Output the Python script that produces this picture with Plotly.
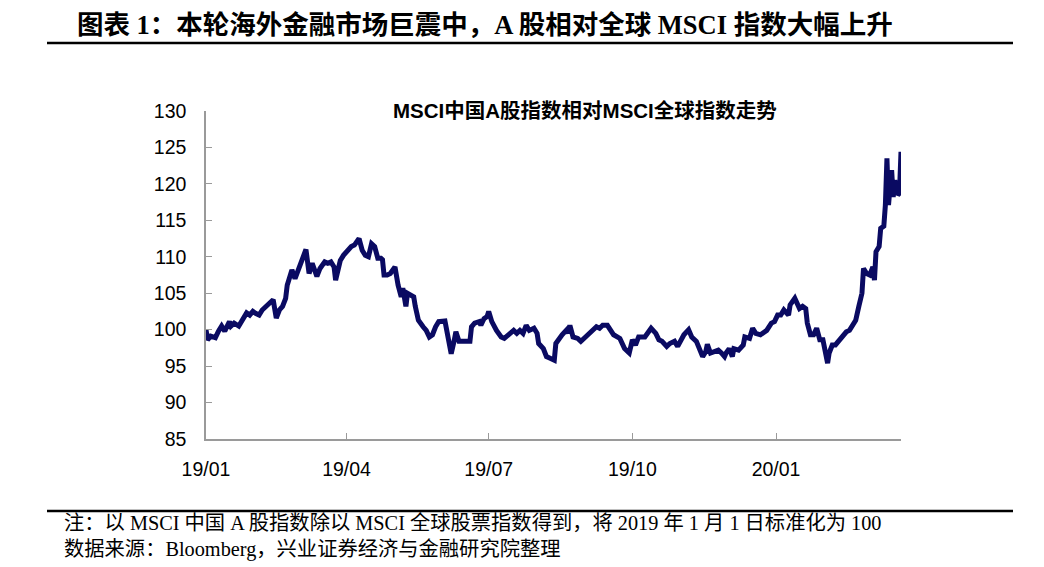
import plotly.graph_objects as go

dates = [
    "2019-01-01", "2019-01-02", "2019-01-04", "2019-01-07", "2019-01-09", "2019-01-11", "2019-01-13",
    "2019-01-16", "2019-01-17", "2019-01-19", "2019-01-22", "2019-01-25", "2019-01-27", "2019-01-29",
    "2019-01-31", "2019-02-02", "2019-02-04", "2019-02-06", "2019-02-08", "2019-02-11", "2019-02-13",
    "2019-02-15", "2019-02-17", "2019-02-19", "2019-02-21", "2019-02-22", "2019-02-25", "2019-02-27",
    "2019-03-01", "2019-03-03", "2019-03-06", "2019-03-08", "2019-03-10", "2019-03-13", "2019-03-15",
    "2019-03-18", "2019-03-20", "2019-03-22", "2019-03-24", "2019-03-25", "2019-03-28", "2019-03-30",
    "2019-04-02", "2019-04-04", "2019-04-06", "2019-04-09", "2019-04-11", "2019-04-13", "2019-04-15",
    "2019-04-17", "2019-04-19", "2019-04-21", "2019-04-23", "2019-04-24", "2019-04-25", "2019-04-27",
    "2019-04-29", "2019-05-02", "2019-05-04", "2019-05-06", "2019-05-07", "2019-05-09", "2019-05-10",
    "2019-05-12", "2019-05-14", "2019-05-15", "2019-05-17", "2019-05-20", "2019-05-22", "2019-05-24",
    "2019-05-26", "2019-05-28", "2019-05-30", "2019-06-03", "2019-06-05", "2019-06-07", "2019-06-09",
    "2019-06-10", "2019-06-12", "2019-06-15", "2019-06-19", "2019-06-20", "2019-06-22", "2019-06-25",
    "2019-06-26", "2019-06-28", "2019-06-30", "2019-07-01", "2019-07-03", "2019-07-06", "2019-07-09",
    "2019-07-11", "2019-07-14", "2019-07-17", "2019-07-19", "2019-07-21", "2019-07-23", "2019-07-25",
    "2019-07-27", "2019-07-30", "2019-08-01", "2019-08-02", "2019-08-05", "2019-08-07", "2019-08-09",
    "2019-08-12", "2019-08-13", "2019-08-15", "2019-08-17", "2019-08-20", "2019-08-21", "2019-08-22",
    "2019-08-24", "2019-08-27", "2019-08-29", "2019-09-01", "2019-09-05", "2019-09-08", "2019-09-10",
    "2019-09-12", "2019-09-15", "2019-09-17", "2019-09-19", "2019-09-23", "2019-09-26", "2019-09-29",
    "2019-10-01", "2019-10-03", "2019-10-05", "2019-10-09", "2019-10-11", "2019-10-13", "2019-10-16",
    "2019-10-18", "2019-10-20", "2019-10-23", "2019-10-25", "2019-10-28", "2019-10-30", "2019-11-01",
    "2019-11-03", "2019-11-06", "2019-11-08", "2019-11-11", "2019-11-14", "2019-11-15", "2019-11-17",
    "2019-11-18", "2019-11-20", "2019-11-23", "2019-11-25", "2019-11-27", "2019-11-29", "2019-11-30",
    "2019-12-02", "2019-12-04", "2019-12-05", "2019-12-08", "2019-12-11", "2019-12-12", "2019-12-15",
    "2019-12-17", "2019-12-19", "2019-12-22", "2019-12-26", "2019-12-29", "2019-12-31", "2020-01-02",
    "2020-01-04", "2020-01-06", "2020-01-09", "2020-01-10", "2020-01-13", "2020-01-16", "2020-01-18",
    "2020-01-20", "2020-01-21", "2020-01-23", "2020-01-25", "2020-01-27", "2020-01-29", "2020-01-31",
    "2020-02-02", "2020-02-03", "2020-02-04", "2020-02-06", "2020-02-08", "2020-02-11", "2020-02-13",
    "2020-02-15", "2020-02-17", "2020-02-19", "2020-02-21", "2020-02-23", "2020-02-25", "2020-02-26",
    "2020-02-28", "2020-03-01", "2020-03-03", "2020-03-04", "2020-03-05", "2020-03-07", "2020-03-08",
    "2020-03-10", "2020-03-11", "2020-03-12", "2020-03-13", "2020-03-14", "2020-03-15", "2020-03-16",
    "2020-03-17", "2020-03-19", "2020-03-20", "2020-03-21",
]

ratio = [
    100.0, 98.6, 99.1, 98.9, 99.8, 100.5, 99.8,
    101.1, 100.5, 100.9, 100.5, 101.6, 102.3, 102.0,
    102.5, 102.2, 102.0, 102.7, 103.1, 103.9, 104.1,
    101.6, 102.7, 103.2, 104.3, 106.1, 108.2, 107.0,
    108.2, 109.5, 111.0, 107.7, 109.1, 107.3, 108.4,
    109.3, 109.1, 109.3, 108.6, 106.8, 109.5, 110.2,
    110.9, 111.4, 111.6, 112.5, 110.9, 110.2, 110.0,
    111.8, 111.4, 109.8, 109.8, 109.6, 107.5, 107.5,
    107.7, 108.6, 106.1, 104.5, 105.7, 103.2, 105.0,
    104.8, 104.5, 103.2, 101.3, 100.4, 99.9, 99.0,
    99.3, 100.4, 101.1, 101.2, 98.6, 96.7, 98.6,
    99.7, 98.4, 98.4, 98.4, 100.4, 100.9, 101.1,
    100.6, 101.5, 101.8, 102.5, 101.1, 99.9, 99.0,
    98.8, 99.3, 99.9, 99.5, 99.9, 99.5, 100.6,
    99.9, 100.2, 99.5, 98.1, 97.4, 96.3, 96.1,
    95.8, 98.1, 98.8, 99.3, 100.0, 99.5, 100.6,
    99.0, 98.8, 98.4, 99.0, 99.7, 100.4, 100.2,
    100.6, 100.6, 100.0, 99.3, 98.8, 97.4, 96.8,
    98.6, 97.9, 99.0, 99.0, 99.5, 100.2, 99.5,
    98.6, 98.4, 97.7, 98.1, 98.4, 97.7, 98.4,
    99.3, 100.0, 99.0, 98.4, 97.0, 96.3, 97.0,
    98.0, 96.8, 97.0, 97.2, 96.8, 96.3, 96.8,
    97.4, 96.3, 97.4, 97.2, 97.9, 99.0, 98.8,
    100.2, 99.5, 99.3, 99.9, 100.9, 101.1, 102.0,
    102.0, 102.7, 102.0, 103.4, 104.3, 102.9, 103.2,
    102.9, 100.9, 99.3, 99.3, 100.2, 98.6, 98.6,
    96.8, 95.4, 96.8, 97.9, 97.9, 98.6, 99.0,
    99.7, 99.9, 100.6, 101.3, 103.2, 105.0, 108.4,
    107.7, 107.5, 108.6, 106.8, 110.7, 111.4, 113.9,
    114.2, 117.1, 123.5, 117.1, 119.6, 121.9, 118.2,
    120.5, 118.5, 118.7, 124.4,
]

y_ticks = [85, 90, 95, 100, 105, 110, 115, 120, 125, 130]

header = "图表 1：本轮海外金融市场巨震中，A 股相对全球 MSCI 指数大幅上升"
chart_title = "MSCI中国A股指数相对MSCI全球指数走势"
note_1 = "注：以 MSCI 中国 A 股指数除以 MSCI 全球股票指数得到，将 2019 年 1 月 1 日标准化为 100"
note_2 = "数据来源：Bloomberg，兴业证券经济与金融研究院整理"

OFF = 8  # page body margin
W, H = 1044 - OFF, 567 - OFF
L, R, T, B = 206 - OFF, 901 - OFF, 111 - OFF, 439 - OFF


def px(x):
    return (x - OFF - L) / (R - L)


def py(y):
    return (B - (y - OFF)) / (B - T)


fig = go.Figure()
fig.add_trace(go.Scatter(
    x=dates, y=ratio, mode="lines",
    line=dict(color="#0a0a62", width=5),
    hoverinfo="skip", showlegend=False,
))

axis_col = "#9a9a9a"
tick_font = dict(family="Liberation Sans, Arial, sans-serif", size=19.5, color="#000000")

fig.update_layout(
    width=W, height=H,
    margin=dict(l=L, r=W - R, t=T, b=H - B),
    paper_bgcolor="#ffffff", plot_bgcolor="#ffffff",
    xaxis=dict(
        type="date", range=["2019-01-01", "2020-03-21"],
        tick0="2019-01-01", dtick="M3", tickformat="%y/%m",
        showgrid=False, zeroline=False,
        showline=True, linecolor=axis_col, linewidth=1.5,
        ticks="inside", ticklen=6, tickcolor=axis_col, tickwidth=1.2,
        tickfont=tick_font, ticklabelstandoff=12,
    ),
    yaxis=dict(
        range=[85, 130], tickvals=y_ticks,
        showgrid=False, zeroline=False,
        showline=True, linecolor=axis_col, linewidth=1.5,
        ticks="inside", ticklen=6, tickcolor=axis_col, tickwidth=1.2,
        tickfont=tick_font, ticklabelstandoff=14,
    ),
)

fig.add_annotation(
    x=px(585), y=py(110), xref="paper", yref="paper",
    text="<b>" + chart_title + "</b>", showarrow=False,
    xanchor="center", yanchor="middle",
    font=dict(family="Liberation Sans, Noto Sans CJK SC, sans-serif", size=20.5, color="#000000"),
)
fig.add_annotation(
    x=px(75), y=py(25), xref="paper", yref="paper",
    text="<b>" + header + "</b>", showarrow=False,
    xanchor="left", yanchor="middle",
    font=dict(family="Liberation Serif, Noto Sans CJK SC, serif", size=26.5, color="#000000"),
)
for txt, yy in [(note_1, 523), (note_2, 549)]:
    fig.add_annotation(
        x=px(62), y=py(yy), xref="paper", yref="paper",
        text=txt, showarrow=False, xanchor="left", yanchor="middle",
        font=dict(family="Liberation Serif, Noto Sans CJK SC, serif", size=20.3, color="#000000"),
    )

for yy, w in [(43, 2.5), (511, 2.5)]:
    fig.add_shape(
        type="line", xref="paper", yref="paper",
        x0=px(47), x1=px(1013), y0=py(yy), y1=py(yy),
        line=dict(color="#000000", width=w),
    )

fig.write_html("out.html")
